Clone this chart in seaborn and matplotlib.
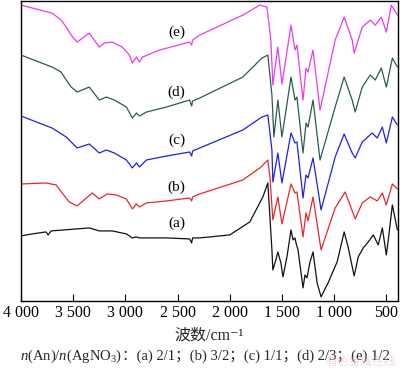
import matplotlib
matplotlib.use("Agg")
import matplotlib.pyplot as plt
import seaborn as sns
import pandas as pd

sns.set_theme(style="ticks")
plt.rcParams['font.family'] = ['Liberation Serif', 'Noto Sans CJK SC', 'DejaVu Sans']
plt.rcParams['mathtext.fontset'] = 'custom'
plt.rcParams['mathtext.rm'] = 'Liberation Serif'
plt.rcParams['mathtext.it'] = 'Liberation Serif:italic'

# FTIR spectra, wavenumber (cm-1) and offset transmittance (a.u.)
wn_e = [4000, 3702, 3615, 3567, 3519, 3462, 3346, 3250, 3202, 3125, 3029, 2962, 2933, 2894, 2865, 2837,
        2673, 2385, 2365, 2356, 2288, 1875, 1712, 1644, 1606, 1587, 1539, 1500, 1413, 1375,
        1356, 1298, 1269, 1250, 1202, 1135, 990, 904, 827, 808, 731, 654, 606, 548, 500, 452, 394]
t_e = [296, 288, 281, 274, 266, 259, 268, 254, 258, 259, 254, 246, 238, 244, 239, 244,
       251, 259, 256, 261, 266, 286, 296, 294, 261, 216, 254, 217, 276, 251,
       256, 201, 233, 229, 251, 191, 261, 284, 261, 248, 274, 281, 276, 284, 269, 296, 286]

wn_d = [4000, 3702, 3615, 3567, 3519, 3462, 3346, 3250, 3183, 3106, 2990, 2933, 2894, 2865, 2798, 2606,
        2385, 2365, 2356, 2288, 1875, 1692, 1635, 1596, 1577, 1539, 1500, 1413, 1375, 1356,
        1298, 1269, 1250, 1202, 1135, 990, 904, 827, 798, 731, 654, 606, 548, 500, 442, 394]
t_d = [246, 234, 229, 221, 214, 209, 214, 201, 204, 201, 194, 183, 188, 185, 189, 194,
       201, 195, 200, 203, 224, 243, 246, 206, 164, 201, 164, 224, 201, 204,
       148, 178, 174, 201, 141, 194, 224, 201, 189, 214, 226, 221, 233, 214, 243, 234]

wn_c = [4000, 3702, 3567, 3462, 3346, 3250, 3183, 3106, 2990, 2933, 2894, 2865, 2798, 2606, 2385,
        2365, 2356, 2288, 1875, 1692, 1635, 1596, 1587, 1539, 1500, 1413, 1375, 1356, 1298,
        1269, 1250, 1202, 1125, 990, 904, 827, 798, 731, 635, 587, 538, 500, 442, 394]
t_c = [185, 173, 164, 153, 157, 148, 151, 148, 141, 133, 138, 134, 141, 145, 149,
       145, 150, 153, 171, 184, 186, 151, 119, 148, 118, 168, 158, 159, 103,
       126, 123, 143, 91, 144, 167, 148, 143, 159, 168, 163, 174, 158, 184, 176]

wn_b = [4000, 3760, 3663, 3606, 3538, 3462, 3317, 3250, 3173, 3087, 2990, 2933, 2894, 2865, 2798, 2606,
        2385, 2365, 2356, 2288, 1875, 1712, 1635, 1615, 1587, 1539, 1500, 1413, 1375, 1356,
        1298, 1269, 1250, 1202, 1125, 990, 894, 798, 731, 654, 587, 538, 500, 442, 394]
t_b = [117, 118, 116, 108, 99, 95, 108, 102, 107, 106, 102, 92, 97, 94, 98, 100,
       103, 100, 104, 107, 121, 133, 141, 124, 81, 104, 77, 117, 108, 109,
       64, 88, 80, 104, 51, 93, 109, 82, 98, 104, 100, 108, 96, 117, 112]

wn_a = [4000, 3894, 3760, 3740, 3712, 3346, 3250, 3125, 2990, 2933, 2894, 2865, 2606, 2385,
        2365, 2356, 2288, 2000, 1808, 1683, 1635, 1625, 1596, 1587, 1558, 1539, 1510, 1490,
        1452, 1413, 1394, 1375, 1365, 1346, 1298, 1279, 1260, 1231, 1202, 1163, 1125, 1058,
        971, 904, 866, 808, 769, 721, 673, 625, 577, 538, 500, 481, 442, 394]
t_a = [65, 67, 69, 66, 70, 73, 70, 70, 67, 63, 64, 63, 63, 62,
       58, 63, 63, 66, 79, 104, 118, 101, 51, 31, 41, 49, 38, 24,
       44, 71, 61, 63, 58, 51, 13, 26, 23, 39, 49, 18, 4, 18,
       39, 69, 54, 25, 44, 53, 59, 66, 56, 73, 46, 61, 96, 71]

labels = ['(a)', '(b)', '(c)', '(d)', '(e)']
label_wn = [2510, 2510, 2510, 2510, 2510]
label_t = [78, 114, 161, 209, 269]
colors = ['#111111', '#e8282a', '#2020e8', '#2d5a50', '#ea3cea']

xticks = [4000, 3500, 3000, 2500, 2000, 1500, 1000, 500]
xticklabels = ['4 000', '3 500', '3 000', '2 500', '2 000', '1 500', '1 000', '500']

series = [(wn_a, t_a), (wn_b, t_b), (wn_c, t_c), (wn_d, t_d), (wn_e, t_e)]

fig = plt.figure(figsize=(4.0, 3.71), dpi=100)
ax = fig.add_axes([0.0525, 0.189, 0.9425, 0.808])

for (wn, t), c in zip(series, colors):
    df = pd.DataFrame({'wn': wn, 't': t})
    sns.lineplot(data=df, x='wn', y='t', ax=ax, color=c, linewidth=0.9,
                 estimator=None, sort=False)

for lab, x, y in zip(labels, label_wn, label_t):
    ax.text(x, y, lab, fontsize=11, ha='center', va='center', color='black')

ax.set_xlim(4000, 388)
ax.set_ylim(0, 300)
ax.set_xticks(xticks)
ax.set_xticklabels(xticklabels, fontsize=11.5)
ax.set_yticks([])
ax.tick_params(axis='x', direction='in', length=5, width=0.8, pad=3, colors='black')
for s in ax.spines.values():
    s.set_linewidth(1.0)
    s.set_color('black')
ax.set_xlabel('波数/cm⁻¹', fontsize=11.5, labelpad=5)
ax.set_ylabel('')

# caption under the axis
t1 = fig.text(20 / 400, 1 - 360 / 371, '$n$(An)/$n$(AgNO$_3$)', fontsize=10.5,
              family='Liberation Serif', va='baseline', ha='left')
fig.canvas.draw()
r = fig.canvas.get_renderer()
bb = t1.get_window_extent(renderer=r)
fig.text(bb.x1 / fig.bbox.width, 1 - 360 / 371, '：(a) 2/1；(b) 3/2；(c) 1/1；(d) 2/3；(e) 1/2',
         fontsize=10.5, va='baseline', ha='left')
# faint watermark, overlapping the caption as in the source image
fig.text(396 / 400, 1 - 365 / 371, '有色金属在线', fontsize=8.5, color='#eab8b8',
         alpha=0.5, ha='right', va='baseline', family=['Noto Sans CJK SC'])

fig.savefig('out.png', dpi=100)
